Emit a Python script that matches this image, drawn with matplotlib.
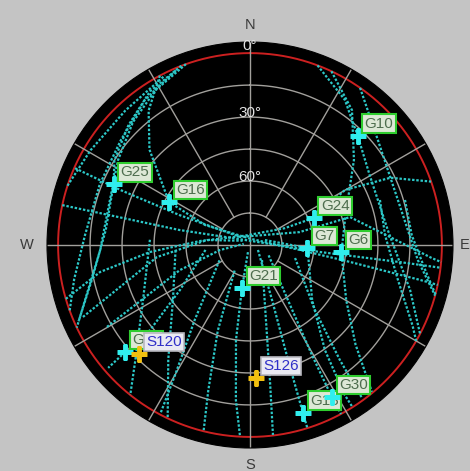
import numpy as np
import matplotlib.pyplot as plt

# satellites in view: name, azimuth (deg), elevation (deg)
sat_names = ["G10", "G25", "G16", "G24", "G7", "G6", "G21", "G13", "G30", "G31", "S120", "S126"]
sat_az = [44.5, 294, 298, 67, 93, 94.5, 190.5, 162.5, 151.7, 229.4, 225.5, 177.4]
sat_el = [18, 20, 47, 57.5, 63, 47, 69.5, 7.5, 9, 13, 17, 27.5]

# sky tracks, (azimuth, elevation) pairs
track_g25 = [(339, 0), (327, 4), (314.5, 10), (302, 15), (294, 20), (276, 22), (257.5, 14), (246, 2)]
track_a = [(340.5, 0), (328.5, 5), (316.4, 10.4), (302.8, 16.4), (287.8, 21), (268.1, 19.7), (251.6, 8.5), (244.5, 0)]
track_b = [(337, 1), (324, 6), (309, 12), (292, 14), (273.5, 12.5), (259, 6), (250, 0)]
track_g16 = [(332, 0), (323, 11), (313.5, 25), (298, 47), (294, 67), (0, 87), (95.7, 66.5), (99.6, 42.5), (101.6, 8.6), (102, 0)]
track_c = [(293.7, 0.4), (293, 24), (293, 54), (309, 84), (75.4, 66), (74.4, 41.3), (86.7, 24.3), (94.1, 4.5), (95.1, 0)]
track_d = [(282, 0), (282, 28), (282, 56), (0, 88), (95.7, 57), (96.5, 19), (96.8, 0)]
track_g24 = [(253.7, 0), (259.8, 18.6), (266, 43), (274.6, 66.5), (331, 85), (64.1, 72), (67, 57.5),
             (59.9, 38.5), (64.4, 17), (70.7, 0)]
track_e = [(288, 0), (300.7, 3), (317.2, 4), (333.4, 1)]
track_g31 = [(263.7, 69), (237.3, 51), (229.6, 28.5), (229.4, 13), (229.1, 2)]
track_f = [(243.4, 74), (216.3, 46), (210, 20), (208, 0.6)]
track_g = [(211, 76), (200.6, 47), (196, 19), (194, 0)]
track_g21 = [(196, 86.5), (190.5, 69.5), (188.4, 45), (185.2, 17), (183, 0.3)]
track_h = [(273, 43), (242.8, 33.6), (225, 14), (218.6, 0)]
track_i = [(266, 55), (234.5, 45.6), (215.5, 24), (205.4, 0)]
track_g13 = [(122, 85.6), (158.2, 62), (161.7, 33), (162.5, 7.5), (162.6, 0)]
track_g30 = [(119, 80), (146.3, 56), (150.6, 31), (151.7, 9), (151.7, 0)]
track_g7 = [(71.6, 82.6), (93, 63), (131.6, 51), (144.5, 29.5), (147.7, 7), (147.7, 0)]
track_g6 = [(25.1, 0), (37.1, 10.7), (50.7, 27), (72.5, 43), (94.5, 47), (119.8, 38), (133.3, 22), (140.3, 0.5)]
track_g10 = [(20.6, 0), (33.2, 8.7), (44.5, 18), (59.7, 25), (83.8, 25), (105.7, 12), (117.6, 0)]
track_j = [(35, 0), (50.6, 12.4), (73.1, 17.5), (95.1, 11), (105.3, 0)]
track_k = [(70.9, 25.5), (85.8, 26.5), (103.3, 18.7), (116.3, 5), (120, 0)]
track_l = [(73.8, 14.3), (86.5, 14), (98.1, 7), (104.9, 0)]
track_m = [(141.3, 81), (168, 54), (171.6, 26), (173.1, 0.3)]
track_n = [(106.1, 68), (135, 47), (142, 21.5), (143.8, 1)]
track_o = [(246.7, 4.7), (262.6, 46), (276.6, 69.7), (300, 86)]
track_p = [(240.2, 12.7), (250.3, 55), (260.5, 75.7), (280, 87)]

tracks = [track_g25, track_a, track_b, track_g16, track_c, track_d, track_g24, track_e,
          track_g31, track_f, track_g, track_g21, track_h, track_i, track_g13, track_g30,
          track_g7, track_g6, track_g10, track_j, track_k, track_l, track_m, track_n,
          track_o, track_p]

fig = plt.figure(figsize=(4.7, 4.71), dpi=100, facecolor="#c4c4c4")
ax = fig.add_axes([0.1, 0.0488, 0.8638, 0.862], projection="polar")
ax.set_theta_zero_location("N")
ax.set_theta_direction(-1)
ax.set_facecolor("black")
ax.set_rlim(0, 95.2)
ax.grid(False)
ax.set_xticks([])
ax.set_yticks([])
ax.spines["polar"].set_color("black")

# elevation rings and azimuth spokes
th = np.linspace(0, 2 * np.pi, 361)
for r in [15, 30, 45, 60, 75]:
    ax.plot(th, np.full_like(th, r), color="#a2a09c", lw=1.0, zorder=1)
ax.plot(th, np.full_like(th, 90), color="#cc2020", lw=1.4, zorder=1)
for a in range(0, 360, 30):
    r0 = 0 if a % 90 == 0 else 15
    ax.plot([np.radians(a)] * 2, [r0, 95.2], color="#a2a09c", lw=1.0, zorder=1)

for trk in tracks:
    az = np.radians([p[0] for p in trk])
    zen = [90 - p[1] for p in trk]
    ax.plot(az, zen, color="#2cc8c8", lw=1.6, ls=(0, (1.1, 0.8)), zorder=2)

# ring labels and compass points
for el, txt in [(0, "0°"), (30, "30°"), (60, "60°")]:
    r = 93.5 if el == 0 else 92 - el
    ax.text(0, r, txt, color="#e2e2e2", fontsize=11, ha="center", va="center",
            family="Liberation Sans", zorder=3)
for ang, r, txt in [(0, 103, "N"), (90, 100.8, "E"), (180, 103, "S"), (270, 104.5, "W")]:
    ax.text(np.radians(ang), r, txt, color="#3a3a3a", fontsize=10.5, ha="center", va="center",
            family="Liberation Sans", clip_on=False)

z = 4
for name, a, e in zip(sat_names, sat_az, sat_el):
    sbas = name.startswith("S")
    if sbas:
        box = dict(boxstyle="square,pad=0.15", fc="#eaeaf2", ec="#b8b8c0", lw=1.2)
        tc, mc = "#3030c8", "#f2c010"
    else:
        box = dict(boxstyle="square,pad=0.15", fc="#dde8d6", ec="#2ecc2e", lw=1.5)
        tc, mc = "#4e6e4e", "#30eeee"
    ax.annotate(name, (np.radians(a), 90 - e), xytext=(7, 5), textcoords="offset pixels",
                ha="left", va="bottom", fontsize=11, family="Liberation Sans", color=tc,
                bbox=box, zorder=z)
    ax.plot(np.radians(a), 90 - e, marker="+", ms=11, mew=3.5, color=mc, zorder=z + 1)
    z += 2

fig.savefig("out.png", dpi=100, facecolor=fig.get_facecolor())
